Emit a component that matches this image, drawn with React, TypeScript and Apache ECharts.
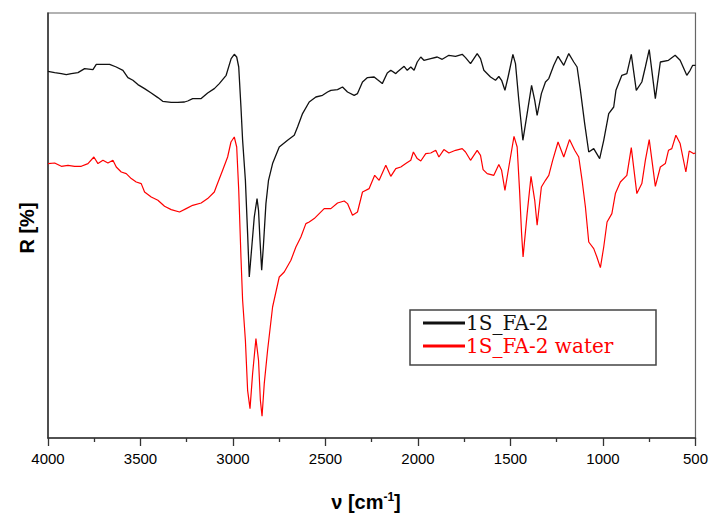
import React, { useEffect, useRef } from "react";
import * as echarts from "echarts";

// Wavenumber (cm^-1) and reflectance (arbitrary units)
const blackWn = [4000, 3964, 3928, 3901, 3874, 3838, 3802, 3757, 3739, 3703, 3667, 3631, 3595, 3568, 3541, 3514, 3478, 3442, 3406, 3380, 3334, 3299, 3262, 3245, 3218, 3172, 3137, 3101, 3074, 3037, 3010, 2993, 2980, 2969, 2957, 2948, 2933, 2921, 2912, 2903, 2885, 2870, 2862, 2854, 2845, 2836, 2822, 2808, 2786, 2750, 2705, 2669, 2651, 2624, 2588, 2552, 2516, 2489, 2471, 2435, 2408, 2381, 2345, 2327, 2300, 2273, 2237, 2220, 2193, 2166, 2147, 2120, 2112, 2075, 2058, 2039, 2021, 2004, 1985, 1968, 1931, 1896, 1869, 1833, 1797, 1761, 1743, 1716, 1680, 1662, 1644, 1608, 1581, 1563, 1548, 1530, 1513, 1487, 1473, 1455, 1433, 1410, 1386, 1369, 1356, 1333, 1311, 1293, 1266, 1243, 1212, 1185, 1158, 1140, 1122, 1099, 1077, 1050, 1018, 996, 969, 942, 930, 898, 871, 847, 820, 790, 771, 750, 717, 690, 646, 610, 583, 547, 529, 515, 500];
const blackR = [366.7, 365.4, 364.4, 363.4, 364.4, 365.4, 369.4, 368.4, 373.7, 373.7, 373.7, 371, 367.7, 360.4, 357.7, 353.4, 349.4, 345, 340.4, 336.7, 335.7, 335.7, 336, 337, 339.4, 339.4, 345, 349.4, 354.4, 362.7, 379.4, 383.7, 381, 371, 331, 297.7, 257.7, 204.4, 161, 181, 221, 239.4, 227.7, 197.7, 167.7, 191, 234.4, 257.7, 274.4, 291, 297.7, 302.7, 311, 324.4, 336, 341, 342.7, 346, 347.7, 348.4, 351, 346, 342.7, 344.4, 356, 360.4, 361, 358.4, 354.4, 365, 367.7, 364.4, 366, 371.7, 367.7, 371, 367.7, 376, 381, 377.7, 379.4, 381, 378.7, 382.7, 381.7, 383.7, 380.4, 374.4, 384.4, 379.4, 367.7, 361, 357.7, 361.5, 357.7, 347.7, 361, 383.7, 374.4, 337.7, 297.7, 324.4, 352.7, 337.7, 322.7, 344.4, 356, 359.4, 372.7, 381.7, 372.7, 384.4, 376, 371, 347.7, 314.4, 286, 289.4, 279.4, 297.7, 324.4, 331, 347.7, 362.7, 364.4, 383.7, 347.7, 356, 371, 388.4, 339.4, 376, 377.7, 382.7, 377.7, 362.7, 367.7, 372.7, 372.7];

const redWn = [4000, 3964, 3928, 3892, 3856, 3820, 3784, 3752, 3730, 3703, 3676, 3649, 3631, 3604, 3577, 3550, 3523, 3496, 3478, 3442, 3406, 3370, 3334, 3289, 3253, 3218, 3172, 3137, 3101, 3091, 3056, 3029, 3011, 2993, 2980, 2969, 2957, 2948, 2933, 2921, 2908, 2894, 2876, 2862, 2852, 2843, 2831, 2813, 2786, 2750, 2723, 2687, 2660, 2633, 2606, 2588, 2561, 2534, 2507, 2471, 2435, 2399, 2381, 2354, 2327, 2300, 2264, 2234, 2210, 2174, 2147, 2120, 2093, 2066, 2039, 2025, 2004, 1985, 1958, 1931, 1904, 1887, 1860, 1833, 1797, 1761, 1743, 1716, 1680, 1662, 1648, 1626, 1590, 1563, 1548, 1530, 1509, 1481, 1464, 1451, 1440, 1432, 1410, 1389, 1369, 1356, 1333, 1311, 1293, 1272, 1243, 1212, 1181, 1153, 1131, 1113, 1095, 1077, 1050, 1033, 1014, 996, 978, 952, 933, 906, 871, 847, 817, 790, 771, 750, 717, 690, 663, 646, 628, 606, 583, 552, 534, 511, 500];
const redR = [274.4, 275, 271.7, 272.7, 271.7, 271.7, 274.4, 281, 274.4, 277.7, 275, 277.7, 271, 266, 264.4, 259.4, 256, 254.4, 246, 241, 237.7, 231.7, 228.4, 226, 229.4, 232.7, 235, 239.4, 246, 251, 267.7, 281, 296, 301, 291, 247.7, 181, 137.7, 97.7, 47.7, 29.4, 64.4, 99.4, 77.7, 37.7, 21.7, 54.4, 87.7, 131, 161, 166, 177.7, 191, 201, 214.4, 216, 219.4, 224.4, 229.4, 229.4, 235, 237, 234.4, 222.7, 226, 246, 249.4, 262.7, 257.7, 272.7, 261.7, 269.4, 271, 274.4, 277.7, 286, 279.4, 277, 284.4, 285, 287.7, 281, 288.4, 285, 287.7, 289.4, 286, 277.7, 287.7, 282.7, 268.4, 264.4, 262.7, 273.5, 267.7, 247.7, 271, 301.7, 291, 247.7, 204.4, 181, 224.4, 261.7, 237.7, 212.7, 251, 257.7, 262.7, 277.7, 296, 281, 298.4, 287.7, 281, 257.7, 231, 196, 189.4, 181, 170.4, 191, 216, 224.4, 244.4, 256, 262.7, 290.4, 244.4, 254.4, 277.7, 298.4, 251.7, 271, 274.4, 287.7, 289.4, 302.7, 294.4, 266, 287, 284.4, 285];

const seriesNames = ["1S_FA-2", "1S_FA-2 water"];
const seriesColors = ["#111111", "#ff0000"];

const zip = (xs: number[], ys: number[]) => xs.map((x, i) => [x, ys[i]]);

export default function App() {
  const ref = useRef<HTMLDivElement>(null);
  useEffect(() => {
    if (!ref.current) return;
    const chart = echarts.init(ref.current, undefined, { renderer: "svg" });
    const axisColor = "#333";
    chart.setOption({
      animation: false,
      backgroundColor: "#ffffff",
      grid: {
        left: 48,
        right: 14,
        top: 13,
        bottom: 76,
        show: true,
        borderColor: "#666",
        borderWidth: 1.2,
        backgroundColor: "transparent",
      },
      xAxis: {
        type: "value",
        inverse: true,
        min: 500,
        max: 4000,
        interval: 500,
        axisLine: { show: true, onZero: false, lineStyle: { color: axisColor, width: 1.5 } },
        axisTick: { show: true, inside: false, length: 8, lineStyle: { color: axisColor, width: 1.3 } },
        minorTick: { show: true, splitNumber: 2, length: 4, lineStyle: { color: axisColor, width: 1.3 } },
        splitLine: { show: false },
        minorSplitLine: { show: false },
        axisLabel: {
          margin: 13,
          color: "#000",
          fontSize: 15,
          fontFamily: "'Liberation Sans', Arial, sans-serif",
          formatter: (v: number) => String(v),
        },
      },
      yAxis: {
        type: "value",
        min: 0,
        max: 425,
        axisLine: { show: true, onZero: false, lineStyle: { color: axisColor, width: 1.5 } },
        axisTick: { show: false },
        axisLabel: { show: false },
        splitLine: { show: false },
      },
      series: [
        {
          name: seriesNames[0],
          type: "line",
          data: zip(blackWn, blackR),
          showSymbol: false,
          symbol: "none",
          lineStyle: { color: seriesColors[0], width: 1.3 },
          itemStyle: { color: seriesColors[0] },
        },
        {
          name: seriesNames[1],
          type: "line",
          data: zip(redWn, redR),
          showSymbol: false,
          symbol: "none",
          lineStyle: { color: seriesColors[1], width: 1.2 },
          itemStyle: { color: seriesColors[1] },
        },
      ],
      graphic: [
        {
          type: "text",
          x: 366,
          y: 502,
          style: {
            text: "{a|ν [cm}{s|-1}{a|]}",
            align: "center",
            verticalAlign: "middle",
            rich: {
              a: { fontSize: 20, fontWeight: "bold", fontFamily: "'Liberation Sans', Arial, sans-serif", fill: "#000" },
              s: { fontSize: 12, fontWeight: "bold", fontFamily: "'Liberation Sans', Arial, sans-serif", fill: "#000", verticalAlign: "top", padding: [0, 0, 10, 0] },
            },
          },
        },
        {
          type: "text",
          x: 27,
          y: 228,
          rotation: Math.PI / 2,
          style: {
            text: "R [%]",
            align: "center",
            verticalAlign: "middle",
            fontSize: 20,
            fontWeight: "bold",
            fontFamily: "'Liberation Sans', Arial, sans-serif",
            fill: "#000",
          },
        },
        {
          type: "rect",
          shape: { x: 410, y: 310, width: 246, height: 55 },
          style: { fill: "#fff", stroke: "#444", lineWidth: 1.5 },
          z: 10,
        },
        {
          type: "line",
          shape: { x1: 423, y1: 323, x2: 465, y2: 323 },
          style: { stroke: seriesColors[0], lineWidth: 3 },
          z: 11,
        },
        {
          type: "text",
          x: 466,
          y: 323,
          style: {
            text: seriesNames[0],
            fontSize: 20,
            fontFamily: "'DejaVu Serif', serif",
            fill: seriesColors[0],
            verticalAlign: "middle",
            align: "left",
          },
          z: 11,
        },
        {
          type: "line",
          shape: { x1: 423, y1: 346, x2: 465, y2: 346 },
          style: { stroke: seriesColors[1], lineWidth: 3 },
          z: 11,
        },
        {
          type: "text",
          x: 466,
          y: 346,
          style: {
            text: seriesNames[1],
            fontSize: 20,
            fontFamily: "'DejaVu Serif', serif",
            fill: seriesColors[1],
            verticalAlign: "middle",
            align: "left",
          },
          z: 11,
        },
      ],
    });
    return () => chart.dispose();
  }, []);
  return <div ref={ref} style={{ width: 711, height: 514, position: "absolute", left: 0, top: 0 }} />;
}
